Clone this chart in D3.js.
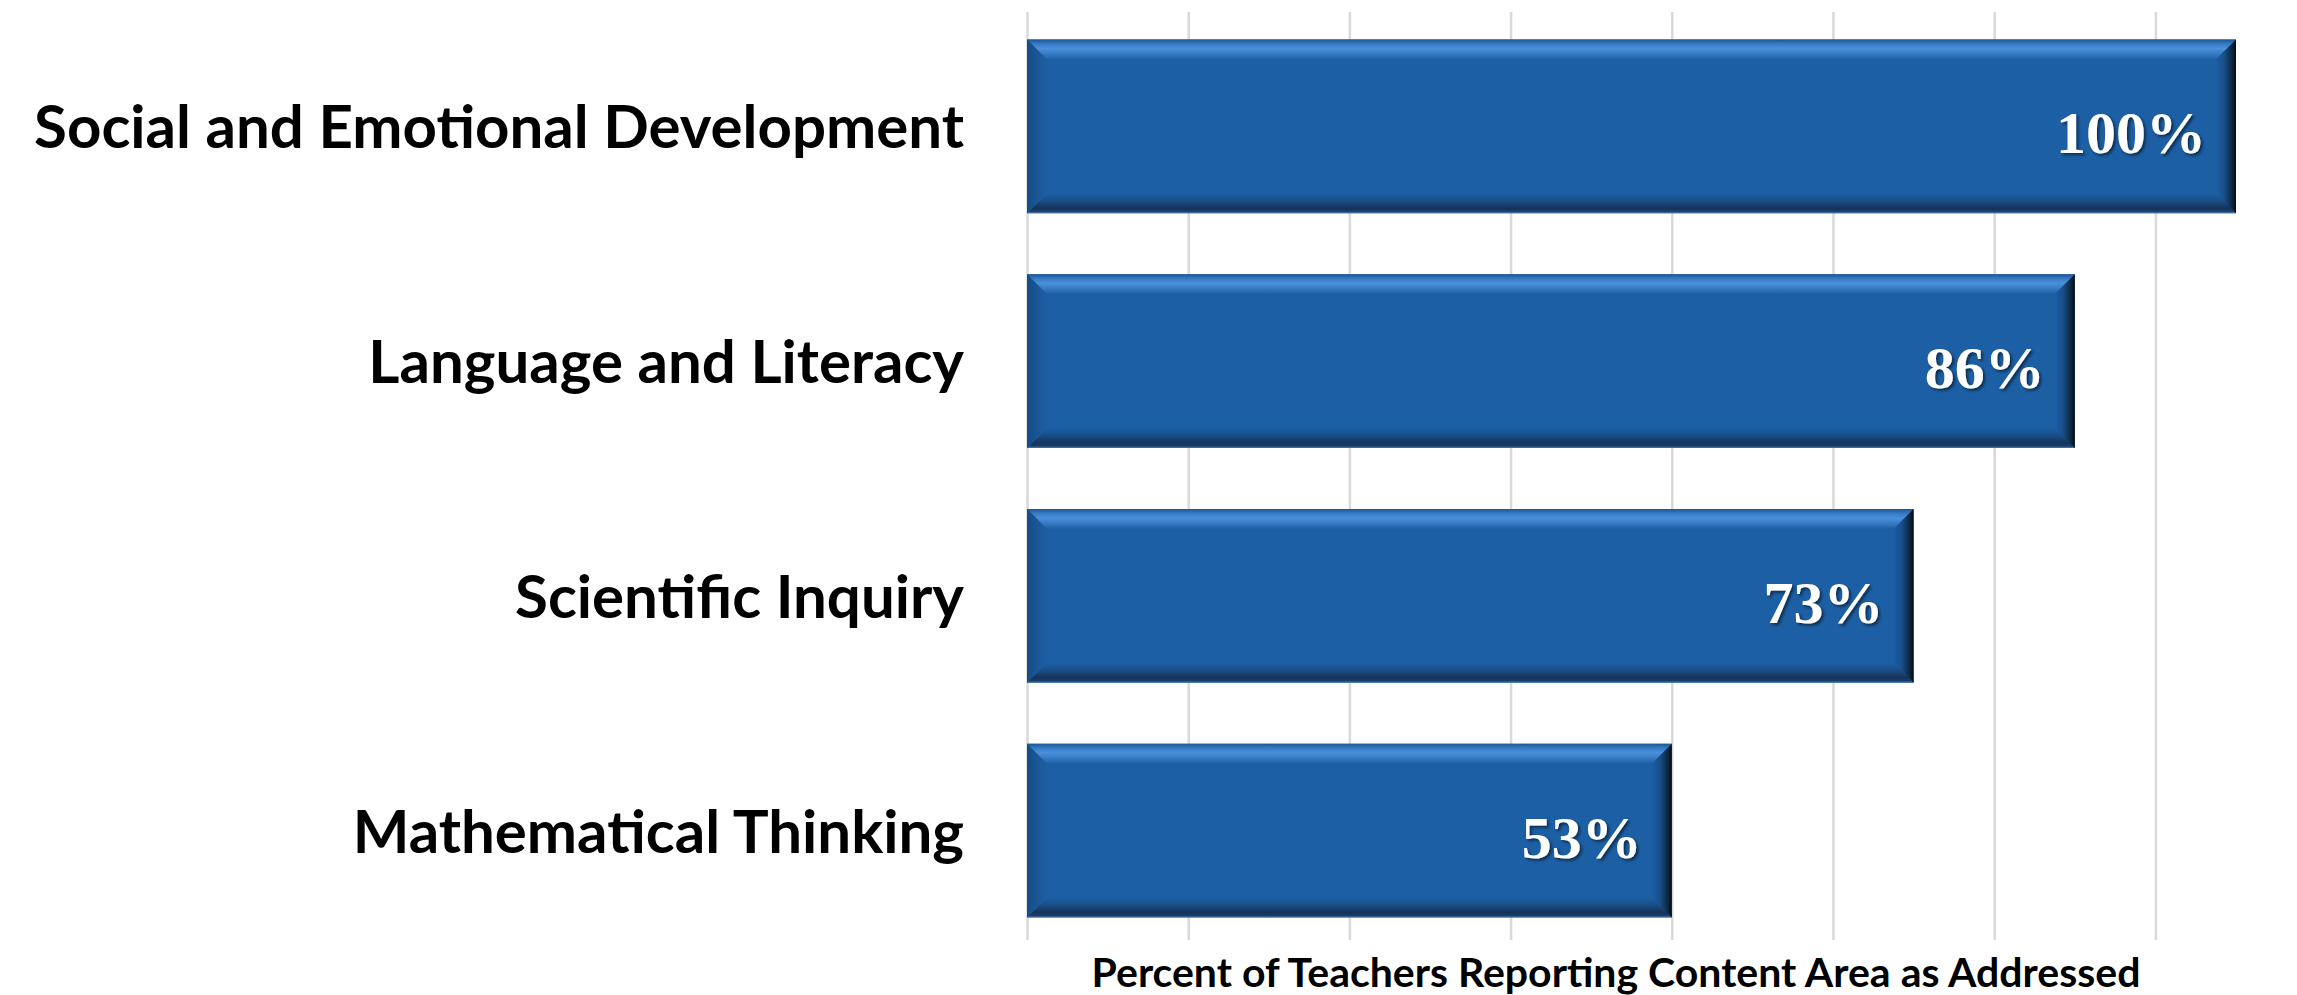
<!DOCTYPE html>
<html>
<head>
<meta charset="utf-8">
<script src="https://cdn.jsdelivr.net/npm/d3@7"></script>
<style>
  html, body { margin: 0; padding: 0; background: #fff; }
  svg { display: block; }
</style>
</head>
<body>
<svg id="chart" width="2297" height="995"></svg>
<script>
// content areas, top to bottom
var categories = ["Social and Emotional Development", "Language and Literacy", "Scientific Inquiry", "Mathematical Thinking"];
// number of teachers reporting each area (bar length, axis units)
var teacherCounts = [15, 13, 11, 8];
// data labels as printed on the bars
var percentLabels = ["100%", "86%", "73%", "53%"];
var axisTitle = "Percent of Teachers Reporting Content Area as Addressed";

var width = 2297, height = 995;
var plotLeft = 1027, unitPx = 80.6;
var plotTop = 9, plotBottom = 948;
var bevel = 20;

var svg = d3.select("#chart");

var xScale = d3.scaleLinear()
    .domain([0, 16])
    .range([plotLeft, plotLeft + 16 * unitPx]);

var yScale = d3.scaleBand()
    .domain(categories)
    .range([plotTop, plotBottom])
    .paddingInner(0.26)
    .paddingOuter(0.13);

////////////////////////////  GRADIENTS  ////////////////////////////
var defs = svg.append("defs");

function addGradient(id, x2, y2, stops) {
  var g = defs.append("linearGradient")
      .attr("id", id)
      .attr("x1", 0).attr("y1", 0)
      .attr("x2", x2).attr("y2", y2);
  stops.forEach(function(s) {
    g.append("stop").attr("offset", s[0]).attr("stop-color", s[1]);
  });
}

addGradient("bevTop", 0, 1, [[0, "#1d5592"], [0.2, "#3478c2"], [0.45, "#4a90dc"], [0.7, "#3a7cc4"], [1, "#1c5fa4"]]);
addGradient("bevBottom", 0, 1, [[0, "#1c5fa4"], [0.35, "#1a4f88"], [0.75, "#14335a"], [0.9, "#1a3d66"], [1, "#4c7db5"]]);
addGradient("bevRight", 1, 0, [[0, "#1c5fa4"], [0.4, "#184f8a"], [0.8, "#0d2740"], [1, "#030b14"]]);
addGradient("bevLeft", 1, 0, [[0, "#164b85"], [0.6, "#1b5898"], [1, "#1c5fa4"]]);

var shadow = defs.append("filter").attr("id", "txtShadow")
    .attr("x", "-10%").attr("y", "-20%").attr("width", "130%").attr("height", "150%");
shadow.append("feDropShadow")
    .attr("dx", 2).attr("dy", 2).attr("stdDeviation", 1.5)
    .attr("flood-color", "#000").attr("flood-opacity", 0.55);

////////////////////////////  GRIDLINES  ////////////////////////////
var grid = svg.append("g")
    .attr("transform", "translate(0," + 940 + ")")
    .call(d3.axisBottom(xScale).ticks(8).tickSize(-928).tickFormat(""));

grid.select(".domain").remove();
grid.selectAll(".tick line")
    .attr("stroke", "#d9d9d9")
    .attr("stroke-width", 2.5);

////////////////////////////  BARS  ////////////////////////////
var bars = svg.selectAll("g.bar")
    .data(categories.map(function(c, i) { return {name: c, count: teacherCounts[i], label: percentLabels[i]}; }))
    .enter()
    .append("g")
    .attr("class", "bar");

bars.each(function(d) {
  var g = d3.select(this);
  var x0 = xScale(0), x1 = xScale(d.count);
  var y0 = yScale(d.name), y1 = y0 + yScale.bandwidth();
  var b = bevel;

  g.append("rect")
      .attr("x", x0).attr("y", y0)
      .attr("width", x1 - x0).attr("height", y1 - y0)
      .attr("fill", "#1c5fa4");

  g.append("polygon")
      .attr("points", [[x0, y0], [x1, y0], [x1 - b, y0 + b], [x0 + b, y0 + b]].join(" "))
      .attr("fill", "url(#bevTop)");
  g.append("polygon")
      .attr("points", [[x0, y1], [x1, y1], [x1 - b, y1 - b], [x0 + b, y1 - b]].join(" "))
      .attr("fill", "url(#bevBottom)");
  g.append("polygon")
      .attr("points", [[x0, y0], [x0 + b, y0 + b], [x0 + b, y1 - b], [x0, y1]].join(" "))
      .attr("fill", "url(#bevLeft)");
  g.append("polygon")
      .attr("points", [[x1, y0], [x1 - b, y0 + b], [x1 - b, y1 - b], [x1, y1]].join(" "))
      .attr("fill", "url(#bevRight)");

  g.append("text")
      .attr("x", x1 - 30)
      .attr("y", (y0 + y1) / 2 + 27)
      .attr("text-anchor", "end")
      .attr("font-family", "'Liberation Serif', serif")
      .attr("font-weight", "bold")
      .attr("font-size", 60)
      .attr("fill", "#ffffff")
      .attr("filter", "url(#txtShadow)")
      .text(d.label);
});

////////////////////////////  CATEGORY LABELS  ////////////////////////////
svg.append("g")
    .selectAll("text")
    .data(categories)
    .enter()
    .append("text")
    .attr("x", 964)
    .attr("y", function(d) { return yScale(d) + yScale.bandwidth() / 2 + 22; })
    .attr("text-anchor", "end")
    .attr("font-family", "Lato, sans-serif")
    .attr("font-weight", "bold")
    .attr("font-size", 60)
    .attr("fill", "#000")
    .text(function(d) { return d; });

////////////////////////////  AXIS TITLE  ////////////////////////////
svg.append("text")
    .attr("x", 1616)
    .attr("y", 987)
    .attr("text-anchor", "middle")
    .attr("font-family", "Lato, sans-serif")
    .attr("font-weight", "bold")
    .attr("font-size", 41)
    .attr("fill", "#000")
    .text(axisTitle);
</script>
</body>
</html>
